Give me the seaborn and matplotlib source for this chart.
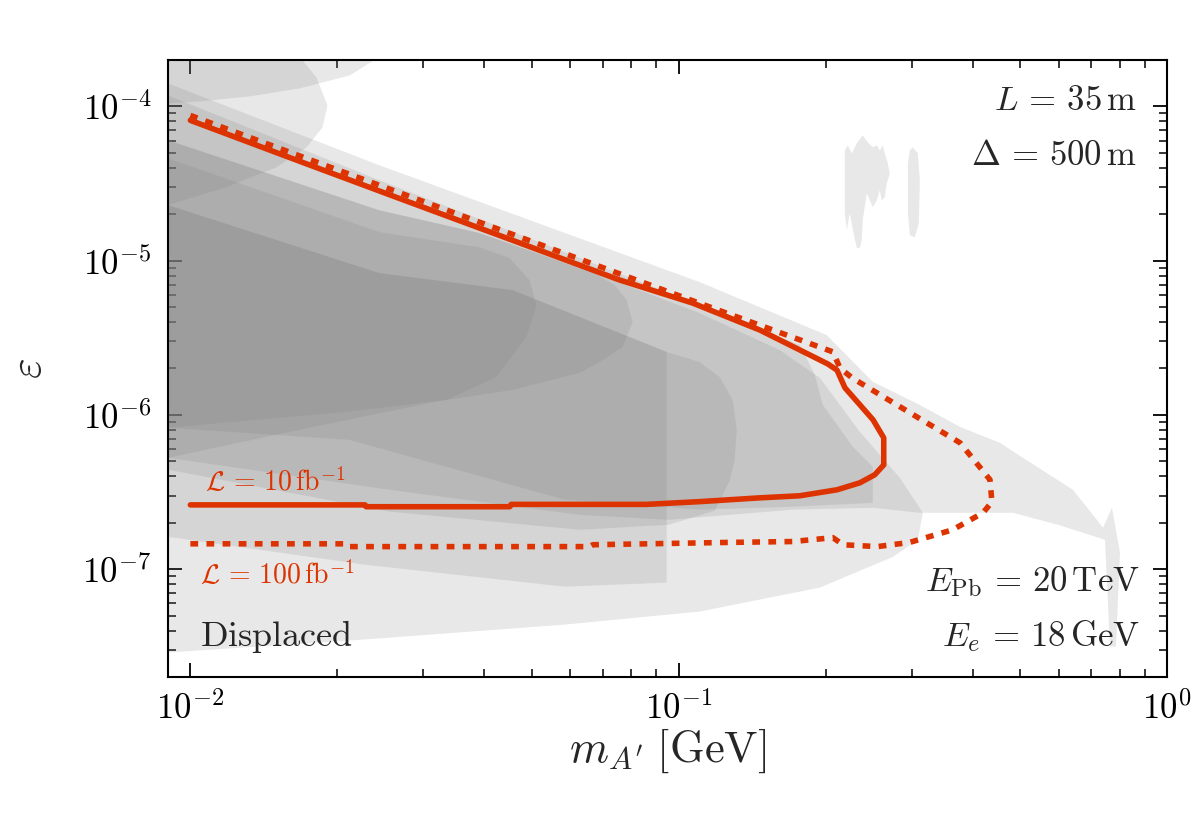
import numpy as np
import matplotlib
matplotlib.use("Agg")
import matplotlib.pyplot as plt
import matplotlib.ticker as mticker
import seaborn as sns

# ---------------- data (m_A' in GeV, epsilon) ----------------
# gray exclusion regions
t1_m = [0.009, 0.0244, 0.0212, 0.01673, 0.01321, 0.01043, 0.009]
t1_eps = [2.1e-4, 2.1e-4, 1.587e-4, 1.308e-4, 1.161e-4, 1.077e-4, 1.046e-4]

t2_m = [0.009, 0.01673, 0.01812, 0.01909, 0.01865, 0.01729, 0.01501, 0.01185, 0.009]
t2_eps = [2.1e-4, 2.1e-4, 1.541e-4, 1.015e-4, 7.31e-5, 5.43e-5, 4.03e-5, 2.99e-5, 2.29e-5]

nucal_m = [0.009, 0.02439, 0.1104, 0.2010, 0.2498, 0.3118, 0.3765, 0.4549, 0.5415,
           0.6419, 0.7395, 0.7715, 0.8012, 0.7862, 0.7642, 0.7465, 0.5979, 0.4835,
           0.3118, 0.2498, 0.1712, 0.0954, 0.06268, 0.02557, 0.009]
nucal_eps = [1.409e-4, 4.15e-5, 7.26e-6, 3.29e-6, 1.64e-6, 1.16e-6, 8.37e-7, 6.59e-7, 4.61e-7,
             3.27e-7, 1.86e-7, 2.50e-7, 1.28e-7, 3.15e-8, 3.15e-8, 1.55e-7, 1.94e-7, 2.32e-7,
             2.32e-7, 2.50e-7, 2.43e-7, 2.09e-7, 2.25e-7, 3.27e-7, 5.27e-7]

x_m = [0.009, 0.02439, 0.05704, 0.1104, 0.1770, 0.1900, 0.1973, 0.2274, 0.2498, 0.2498,
       0.1712, 0.1104, 0.05841, 0.02117, 0.009]
x_eps = [1.178e-4, 3.32e-5, 1.17e-5, 5.15e-6, 2.84e-6, 1.82e-6, 1.16e-6, 6.21e-7, 4.61e-7, 2.69e-7,
         2.54e-7, 2.43e-7, 2.82e-7, 6.89e-7, 8.24e-7]

l_m = [0.009, 0.02439, 0.03910, 0.07327, 0.1104, 0.1611, 0.1945, 0.2350, 0.2837, 0.3162,
       0.3089, 0.2745, 0.1945, 0.1104, 0.05841, 0.02273, 0.009]
l_eps = [6.03e-5, 2.12e-5, 1.51e-5, 7.48e-6, 4.57e-6, 2.63e-6, 1.74e-6, 7.76e-7, 3.91e-7, 2.32e-7,
         1.55e-7, 1.20e-7, 7.59e-8, 5.31e-8, 4.37e-8, 3.50e-8, 2.88e-8]

q_m = [0.009, 0.02439, 0.03910, 0.06665, 0.07396, 0.07826, 0.08050, 0.07679, 0.06888,
       0.06268, 0.04569, 0.03346, 0.02117, 0.009]
q_eps = [6.03e-5, 2.12e-5, 1.51e-5, 8.42e-6, 6.94e-6, 5.55e-6, 4.00e-6, 2.75e-6, 2.20e-6,
         1.87e-6, 1.45e-6, 1.25e-6, 1.05e-6, 8.24e-7]

p_m = [0.009, 0.02439, 0.03910, 0.04505, 0.04951, 0.05117, 0.04881, 0.04236, 0.03346,
       0.03118, 0.01673, 0.009]
p_eps = [4.61e-5, 1.53e-5, 1.22e-5, 1.04e-5, 7.48e-6, 5.15e-6, 3.20e-6, 1.76e-6, 1.25e-6,
         1.20e-6, 8.00e-7, 5.27e-7]

m_m = [0.009, 0.02439, 0.04569, 0.0945, 0.0945, 0.05841, 0.02273, 0.009]
m_eps = [2.29e-5, 8.30e-6, 6.44e-6, 2.56e-6, 8.18e-8, 7.70e-8, 1.07e-7, 1.62e-7]

j_m = [0.009, 0.02439, 0.04569, 0.0945, 0.1104, 0.1213, 0.1290, 0.1315, 0.1302, 0.1272,
       0.1185, 0.0954, 0.06268, 0.02557, 0.009]
j_eps = [2.29e-5, 8.30e-6, 6.44e-6, 2.56e-6, 2.20e-6, 1.76e-6, 1.25e-6, 8.00e-7, 5.11e-7, 3.74e-7,
         2.39e-7, 1.94e-7, 1.80e-7, 2.36e-7, 4.41e-7]

blob1_m = [0.2189, 0.2220, 0.2262, 0.2316, 0.2382, 0.2439, 0.2498, 0.2545, 0.2582, 0.2618,
           0.2643, 0.2681, 0.2706, 0.2668, 0.2643, 0.2606, 0.2582, 0.2545, 0.2498, 0.2463,
           0.2428, 0.2382, 0.2371, 0.2350, 0.2316, 0.2274, 0.2241, 0.2210, 0.2189, 0.2189]
blob1_eps = [5.19e-5, 5.59e-5, 4.96e-5, 5.76e-5, 6.49e-5, 5.85e-5, 5.43e-5, 5.59e-5, 5.19e-5, 5.59e-5,
             4.96e-5, 4.28e-5, 3.68e-5, 3.17e-5, 2.58e-5, 2.46e-5, 2.86e-5, 2.46e-5, 2.22e-5, 2.46e-5,
             2.73e-5, 1.83e-5, 1.36e-5, 1.21e-5, 1.21e-5, 1.58e-5, 2.03e-5, 1.58e-5, 2.03e-5, 3.32e-5]

blob2_m = [0.3017, 0.3089, 0.3118, 0.3103, 0.3046, 0.2975, 0.2947, 0.2947, 0.2975]
blob2_eps = [5.43e-5, 4.96e-5, 3.32e-5, 1.75e-5, 1.42e-5, 1.46e-5, 2.03e-5, 4.28e-5, 5.19e-5]

# projected reach, L = 10 fb^-1 (solid)
lumi10_m = [0.0100, 0.0228, 0.0229, 0.0451, 0.0454, 0.0859, 0.1104, 0.1466, 0.177, 0.211,
            0.235, 0.252, 0.263, 0.263, 0.250, 0.219, 0.211, 0.202, 0.1466, 0.1068, 0.0757,
            0.04297, 0.02681, 0.01673, 0.0100]
lumi10_eps = [2.61e-7, 2.61e-7, 2.54e-7, 2.54e-7, 2.63e-7, 2.63e-7, 2.74e-7, 2.90e-7, 2.99e-7, 3.27e-7,
              3.63e-7, 4.09e-7, 4.74e-7, 7.1e-7, 9.3e-7, 1.50e-6, 1.95e-6, 2.14e-6, 3.55e-6, 5.31e-6, 7.49e-6,
              1.456e-5, 2.53e-5, 4.41e-5, 8.12e-5]

# projected reach, L = 100 fb^-1 (dotted)
lumi100_m = [0.0100, 0.0210, 0.0212, 0.0657, 0.0667, 0.1254, 0.171, 0.207, 0.217, 0.255,
             0.297, 0.364, 0.420, 0.438, 0.434, 0.377, 0.275, 0.227, 0.214, 0.207,
             0.1104, 0.04297, 0.01673, 0.0100]
lumi100_eps = [1.46e-7, 1.46e-7, 1.40e-7, 1.40e-7, 1.44e-7, 1.49e-7, 1.51e-7, 1.60e-7, 1.44e-7, 1.40e-7,
               1.49e-7, 1.80e-7, 2.32e-7, 2.73e-7, 3.80e-7, 6.59e-7, 1.20e-6, 1.73e-6, 2.01e-6, 2.56e-6,
               5.29e-6, 1.59e-5, 4.78e-5, 8.74e-5]

x_ticks = [1e-2, 1e-1, 1e0]
y_ticks = [1e-7, 1e-6, 1e-5, 1e-4]

# ---------------- style ----------------
sns.set_style("ticks")
plt.rcParams["mathtext.fontset"] = "cm"
plt.rcParams["font.family"] = ["DejaVu Serif", "DejaVu Sans"]
plt.rcParams["axes.linewidth"] = 1.5

RED = "#dd3300"
GRAY = "0.5"

fig = plt.figure(figsize=(12, 8.18), dpi=100)
ax = fig.add_axes([0.14, 0.1724, 0.8325, 0.7543])
ax.set_xscale("log")
ax.set_yscale("log")

regions = [(t1_m, t1_eps), (t2_m, t2_eps), (nucal_m, nucal_eps), (x_m, x_eps),
           (l_m, l_eps), (q_m, q_eps), (p_m, p_eps), (m_m, m_eps), (j_m, j_eps),
           (blob1_m, blob1_eps), (blob2_m, blob2_eps)]
for rm, re in regions:
    ax.fill(rm, re, color=GRAY, alpha=0.18, lw=0, zorder=1)

sns.lineplot(x=lumi10_m, y=lumi10_eps, sort=False, estimator=None, ax=ax,
             color=RED, lw=4.0, zorder=3)
sns.lineplot(x=lumi100_m, y=lumi100_eps, sort=False, estimator=None, ax=ax,
             color=RED, lw=4.0, linestyle=(0, (1.4, 1.5)), zorder=3)

ax.set_xlim(0.009, 1.0)
ax.set_ylim(2e-8, 2e-4)

fmt = mticker.FuncFormatter(lambda v, p: r"$10^{%d}$" % int(round(np.log10(v))))
ax.xaxis.set_major_locator(mticker.FixedLocator(x_ticks))
ax.yaxis.set_major_locator(mticker.FixedLocator(y_ticks))
ax.xaxis.set_major_formatter(fmt)
ax.yaxis.set_major_formatter(fmt)
ax.xaxis.set_minor_locator(mticker.LogLocator(base=10, subs=np.arange(2, 10), numticks=20))
ax.yaxis.set_minor_locator(mticker.LogLocator(base=10, subs=np.arange(2, 10), numticks=20))
ax.xaxis.set_minor_formatter(mticker.NullFormatter())
ax.yaxis.set_minor_formatter(mticker.NullFormatter())
ax.tick_params(which="both", direction="in", top=True, right=True, colors="black")
ax.tick_params(which="major", length=10, width=1.3, labelsize=25)
ax.tick_params(which="minor", length=5.5, width=1.1)
ax.tick_params(axis="x", which="major", pad=10)
ax.tick_params(axis="y", which="major", pad=12)
for s in ax.spines.values():
    s.set_color("black")
    s.set_linewidth(1.5)

ax.set_xlabel(r"$m_{A^\prime}\;[\mathrm{GeV}]$", fontsize=32)
ax.set_ylabel(r"$\varepsilon$", fontsize=32)
ax.xaxis.set_label_coords(0.5, -0.08)
ax.yaxis.set_label_coords(-0.118, 0.5)

ax.text(0.970, 0.935, r"$L\,=\,35\,\mathrm{m}$", transform=ax.transAxes, ha="right", va="center", fontsize=25)
ax.text(0.970, 0.846, r"$\Delta\,=\,500\,\mathrm{m}$", transform=ax.transAxes, ha="right", va="center", fontsize=25)
ax.text(0.973, 0.154, r"$E_{\mathrm{Pb}}\,=\,20\,\mathrm{TeV}$", transform=ax.transAxes, ha="right", va="center", fontsize=25)
ax.text(0.973, 0.066, r"$E_e\,=\,18\,\mathrm{GeV}$", transform=ax.transAxes, ha="right", va="center", fontsize=25)
ax.text(0.032, 0.066, r"$\mathrm{Displaced}$", transform=ax.transAxes, ha="left", va="center", fontsize=26)
ax.text(0.037, 0.315, r"$\mathcal{L}\,=\,10\,\mathrm{fb}^{-1}$", transform=ax.transAxes, ha="left", va="center",
        fontsize=20, color=RED)
ax.text(0.032, 0.165, r"$\mathcal{L}\,=\,100\,\mathrm{fb}^{-1}$", transform=ax.transAxes, ha="left", va="center",
        fontsize=20, color=RED)

fig.savefig("out.png", dpi=100)
